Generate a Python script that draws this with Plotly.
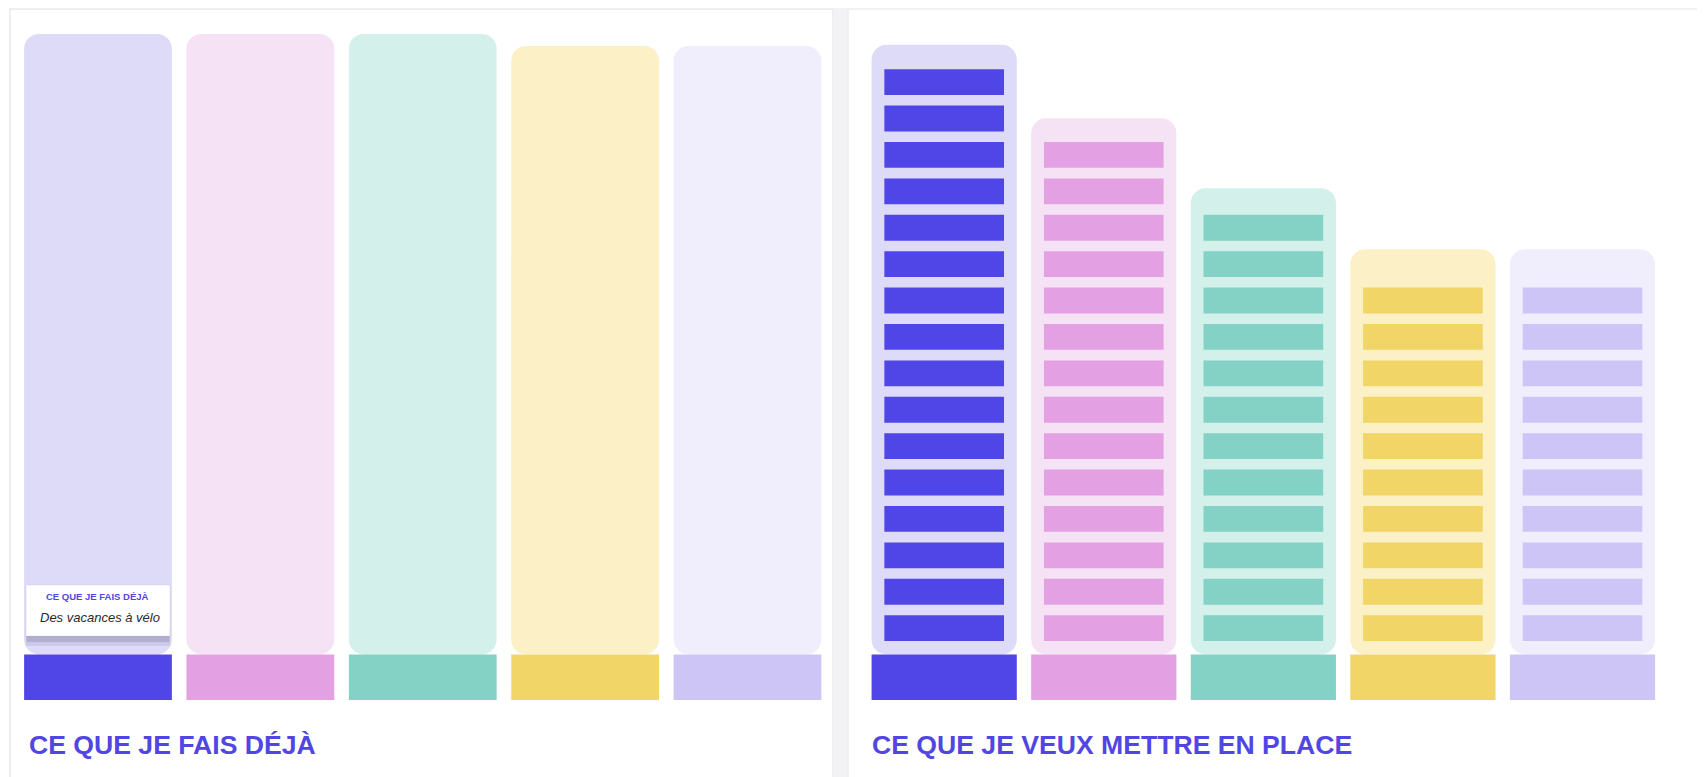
import plotly.graph_objects as go

# ---------------- data ----------------
categories = ["A", "B", "C", "D", "E"]
base_colors = ["#5046E8", "#E3A0E3", "#84D2C5", "#F1D566", "#CDC5F6"]
light_colors = ["#DEDBF8", "#F6E2F5", "#D3F0EB", "#FBF0C6", "#F0EEFD"]

left_capacity = [17.05, 17.05, 17.05, 16.72, 16.72]   # "Ce que je fais déjà"
right_capacity = [16.75, 14.73, 12.81, 11.13, 11.13]  # "Ce que je veux mettre en place"
right_counts = [16, 14, 12, 10, 10]
base_height = 1.25

title_left = "CE QUE JE FAIS DÉJÀ"
title_right = "CE QUE JE VEUX METTRE EN PLACE"
tooltip_title = "CE QUE JE FAIS DÉJÀ"
tooltip_text = "Des vacances à vélo"

W, H = 1705, 777
OFF = 8                # page body margin
BOTTOM = 700 - OFF     # figure px of plot-area bottom
UNIT = 36.4            # px per unit
TITLE_COLOR = "#5146E2"
FONT = "Liberation Sans, Arial, Helvetica, sans-serif"

fig = go.Figure()

# ---- left panel ----
fig.add_trace(go.Bar(x=categories, y=left_capacity, base=[0] * 5, width=0.91,
                     marker=dict(color=light_colors, cornerradius=15, line_width=0),
                     xaxis="x", yaxis="y", hoverinfo="skip", showlegend=False))
fig.add_trace(go.Bar(x=categories, y=[base_height] * 5, base=[-base_height] * 5, width=0.91,
                     marker=dict(color=base_colors, line_width=0),
                     xaxis="x", yaxis="y", hoverinfo="skip", showlegend=False))

# ---- right panel ----
fig.add_trace(go.Bar(x=categories, y=right_capacity, base=[0] * 5, width=0.91,
                     marker=dict(color=light_colors, cornerradius=15, line_width=0),
                     xaxis="x2", yaxis="y", hoverinfo="skip", showlegend=False))
for i, cat in enumerate(categories):
    n = right_counts[i]
    fig.add_trace(go.Bar(x=[cat] * n, y=[0.71] * n, base=[k + 0.37 for k in range(n)],
                         width=0.75, marker=dict(color=base_colors[i], line_width=0),
                         xaxis="x2", yaxis="y", hoverinfo="skip", showlegend=False))
fig.add_trace(go.Bar(x=categories, y=[base_height] * 5, base=[-base_height] * 5, width=0.91,
                     marker=dict(color=base_colors, line_width=0),
                     xaxis="x2", yaxis="y", hoverinfo="skip", showlegend=False))


def px_x(p):
    return (p - OFF) / W


def px_y(p):
    return (BOTTOM - (p - OFF)) / BOTTOM


shapes = [
    # cards background
    dict(type="rect", xref="paper", yref="paper", x0=px_x(10), x1=px_x(833), y0=px_y(800), y1=px_y(9),
         fillcolor="white", line=dict(color="#E9E9EC", width=1.5), layer="below"),
    dict(type="rect", xref="paper", yref="paper", x0=px_x(833), x1=px_x(848), y0=px_y(800), y1=px_y(0),
         fillcolor="#F3F3F5", line_width=0, layer="below"),
    dict(type="rect", xref="paper", yref="paper", x0=px_x(848), x1=px_x(1730), y0=px_y(800), y1=px_y(9),
         fillcolor="white", line=dict(color="#EDEDF0", width=1.5), layer="below"),
    # tooltip shadow + box
    dict(type="rect", xref="x", yref="y", x0=-0.445, x1=0.445, y0=0.24, y1=0.7,
         fillcolor="rgba(140,136,175,0.22)", line_width=0, layer="above"),
    dict(type="rect", xref="x", yref="y", x0=-0.44, x1=0.44, y0=0.34, y1=0.7,
         fillcolor="rgba(130,126,165,0.35)", line_width=0, layer="above"),
    dict(type="rect", xref="x", yref="y", x0=-0.443, x1=0.443, y0=0.508, y1=1.909,
         fillcolor="white", line=dict(color="rgba(0,0,0,0.06)", width=1), layer="above"),
]

annotations = [
    dict(text="<b>" + title_left + "</b>", xref="paper", yref="paper", x=px_x(27), y=px_y(745),
         xanchor="left", yanchor="middle", showarrow=False,
         font=dict(family=FONT, size=26.6, color=TITLE_COLOR)),
    dict(text="<b>" + title_right + "</b>", xref="paper", yref="paper", x=px_x(870), y=px_y(745),
         xanchor="left", yanchor="middle", showarrow=False,
         font=dict(family=FONT, size=26.6, color=TITLE_COLOR)),
    dict(text="<b>" + tooltip_title + "</b>", xref="x", yref="y", x=0.0, y=1.58,
         xanchor="center", yanchor="middle", showarrow=False,
         font=dict(family=FONT, size=9.5, color=TITLE_COLOR)),
    dict(text="<i>" + tooltip_text + "</i>", xref="x", yref="y", x=0.01, y=1.03,
         xanchor="center", yanchor="middle", showarrow=False,
         font=dict(family=FONT, size=13, color="#2A2A2A")),
]

fig.update_layout(
    width=W, height=H, autosize=False,
    margin=dict(l=0, r=0, t=0, b=H - BOTTOM),
    barmode="overlay",
    paper_bgcolor="white", plot_bgcolor="rgba(0,0,0,0)",
    xaxis=dict(domain=[(16.8 - OFF) / W, (828.7 - OFF) / W], range=[-0.5, 4.5], visible=False,
               anchor="y", categoryorder="array", categoryarray=categories, fixedrange=True),
    xaxis2=dict(domain=[(864.4 - OFF) / W, (1662.3 - OFF) / W], range=[-0.5, 4.5], visible=False,
                anchor="y", categoryorder="array", categoryarray=categories, fixedrange=True),
    yaxis=dict(range=[-base_height, -base_height + BOTTOM / UNIT], visible=False, fixedrange=True),
    shapes=shapes,
    annotations=annotations,
    showlegend=False,
)

fig.write_html("out.html")
